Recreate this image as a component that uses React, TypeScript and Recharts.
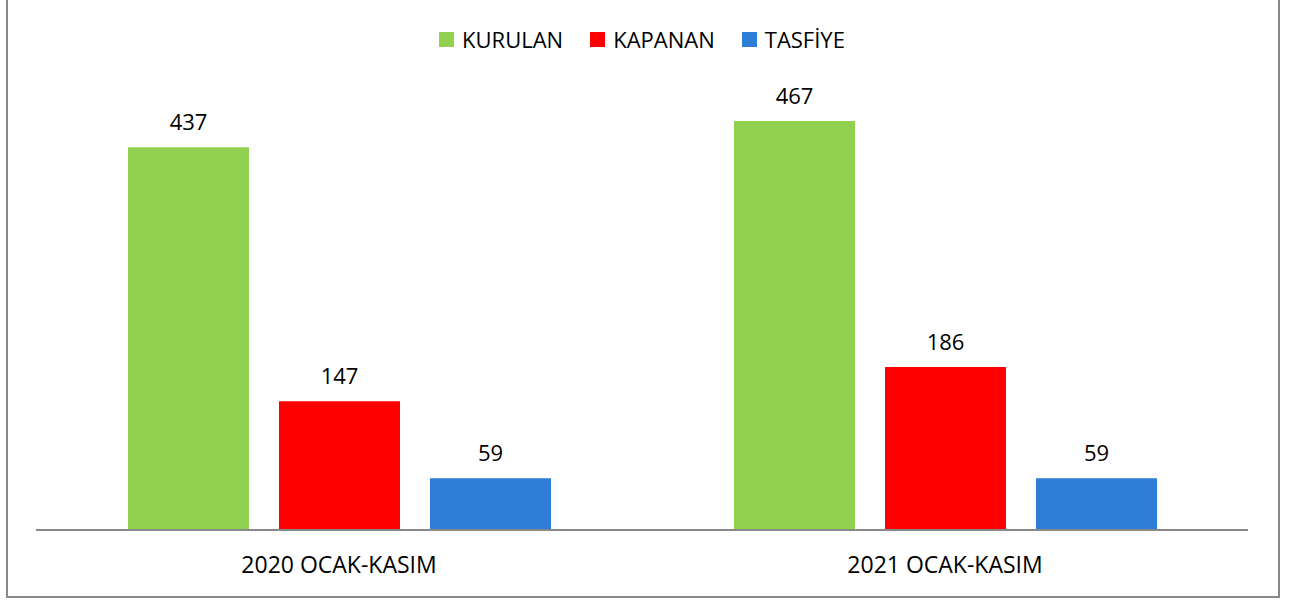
import React from 'react'
import { Bar, BarChart, LabelList, Legend, XAxis, YAxis } from 'recharts'

const periods = ['2020 OCAK-KASIM', '2021 OCAK-KASIM']
const kurulan = [437, 467]
const kapanan = [147, 186]
const tasfiye = [59, 59]

const seriesNames = ['KURULAN', 'KAPANAN', 'TASFİYE']
const seriesColors = ['#92D050', '#FF0000', '#2E7DD7']

const data = periods.map((name, i) => ({
    name,
    KURULAN: kurulan[i],
    KAPANAN: kapanan[i],
    'TASFİYE': tasfiye[i],
}))

const font = '"Open Sans", sans-serif'

const LegendBox = () => (
    <div style={{ display: 'flex', justifyContent: 'center', alignItems: 'center', fontFamily: font, fontSize: 22, color: '#000', lineHeight: '28px' }}>
        {seriesNames.map((s, i) => (
            <div key={s} style={{ display: 'flex', alignItems: 'center', marginLeft: i ? 27 : 0 }}>
                <span style={{ width: 15, height: 15, background: seriesColors[i], display: 'inline-block', marginRight: 8 }} />
                <span>{s}</span>
            </div>
        ))}
    </div>
)

const App = () => {
    return (
        <div style={{ position: 'absolute', left: 6, top: -2, width: 1274, height: 600, border: '2px solid #898989', boxSizing: 'border-box', background: '#fff', fontFamily: font }}>
            <BarChart
                width={1270}
                height={596}
                data={data}
                barGap={30}
                barSize={121}
                margin={{ top: 64, right: 30, left: 28, bottom: 0 }}
            >
                <XAxis
                    dataKey="name"
                    axisLine={{ stroke: '#898989', strokeWidth: 2 }}
                    tickLine={false}
                    height={66}
                    tickMargin={21}
                    tick={{ fill: '#000', fontSize: 23, fontFamily: font }}
                />
                <YAxis hide domain={[0, 500]} />
                <Legend verticalAlign="top" align="center" wrapperStyle={{ top: 25 }} content={<LegendBox />} />
                {seriesNames.map((s, i) => (
                    <Bar key={s} dataKey={s} fill={seriesColors[i]} isAnimationActive={false}>
                        <LabelList dataKey={s} position="top" offset={17} fill="#000" fontSize={22} fontFamily={font} />
                    </Bar>
                ))}
            </BarChart>
        </div>
    )
}

export default App
